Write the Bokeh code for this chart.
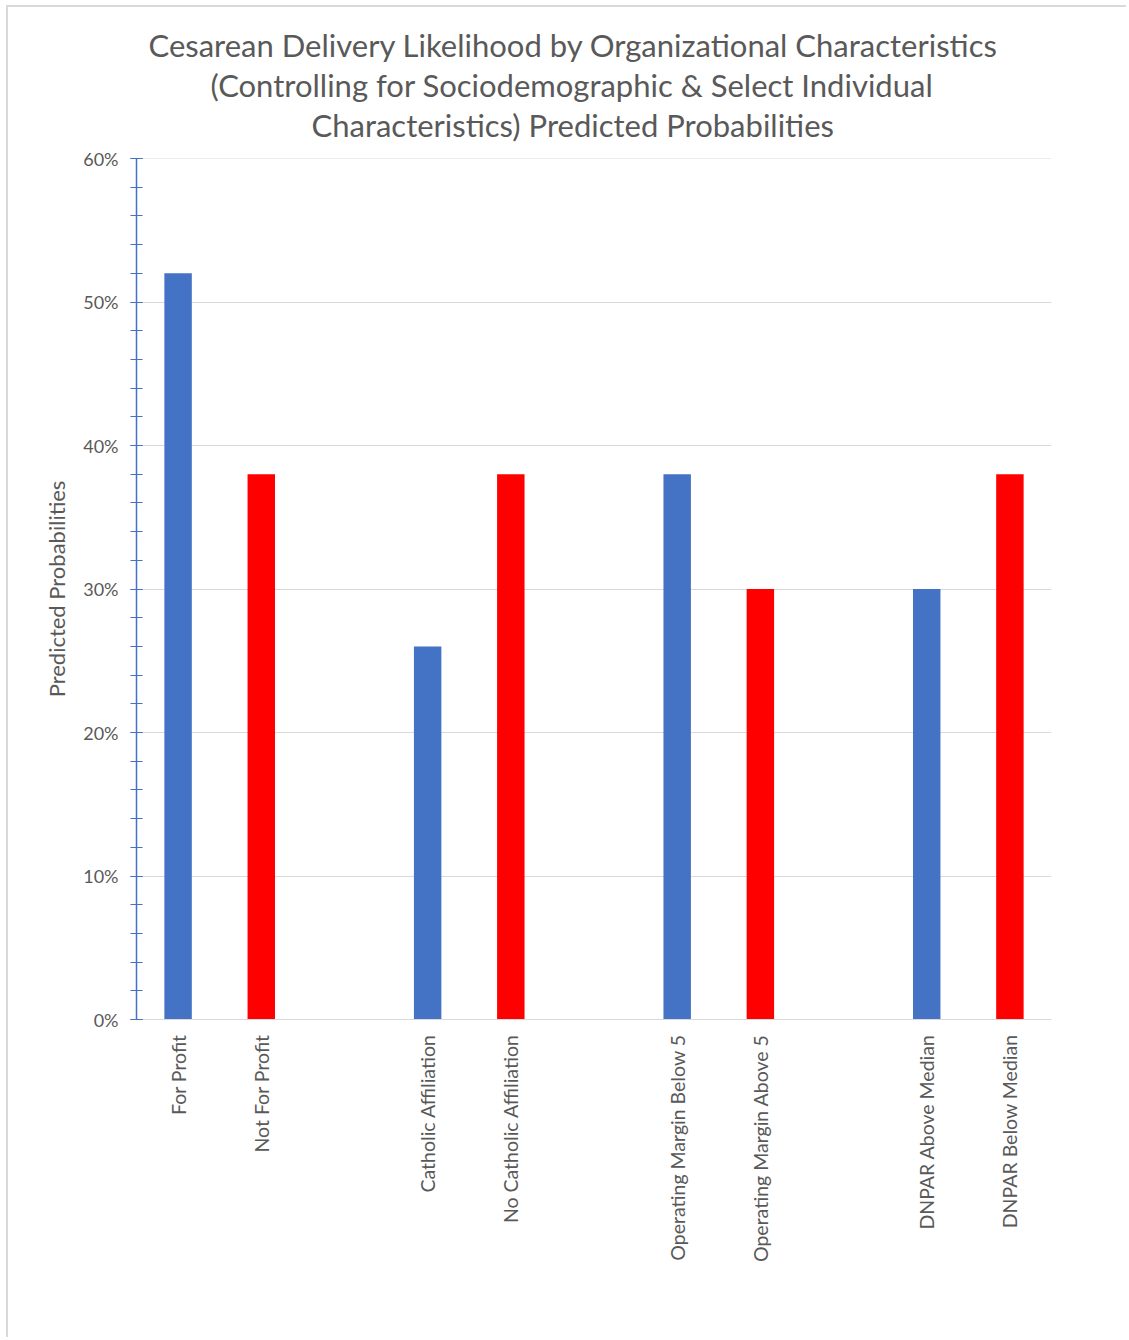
import math
from bokeh.plotting import figure
from bokeh.models import FactorRange, Range1d, NumeralTickFormatter, SingleIntervalTicker, Title, ColumnDataSource
from bokeh.embed import file_html
from bokeh.resources import INLINE

# ---- data ----
slots = ["For Profit", "Not For Profit", " ",
         "Catholic Affiliation", "No Catholic Affiliation", "  ",
         "Operating Margin Below 5", "Operating Margin Above 5", "   ",
         "DNPAR Above Median", "DNPAR Below Median"]
categories = ["For Profit", "Not For Profit",
              "Catholic Affiliation", "No Catholic Affiliation",
              "Operating Margin Below 5", "Operating Margin Above 5",
              "DNPAR Above Median", "DNPAR Below Median"]
values = [0.52, 0.38, 0.26, 0.38, 0.38, 0.30, 0.30, 0.38]
series = ["first", "second"] * 4
title_lines = ["Cesarean Delivery Likelihood by Organizational Characteristics",
               "(Controlling for Sociodemographic & Select Individual",
               "Characteristics) Predicted Probabilities"]
y_label = "Predicted Probabilities"

BLUE = "#4472C4"
RED = "#FF0000"
GRAY_TXT = "#595959"
FONT = "Lato"

colors = [BLUE if s == "first" else RED for s in series]
src = ColumnDataSource(dict(cat=categories, val=values, color=colors))

p = figure(width=1120, height=1332,
           x_range=FactorRange(factors=slots, range_padding=0),
           y_range=Range1d(0, 0.6000001),
           output_backend="svg", toolbar_location=None,
           min_border_left=128, min_border_right=77,
           min_border_top=151, min_border_bottom=320)
p.styles = {"margin-left": "6px", "margin-top": "5px",
            "border-top": "2px solid #d9d9d9", "border-left": "2px solid #d9d9d9"}

p.vbar(x="cat", top="val", width=0.33, fill_color="color", line_color=None, source=src)

p.outline_line_color = None
p.xgrid.grid_line_color = None
p.ygrid.grid_line_color = "#d9d9d9"
p.ygrid.grid_line_width = 1

# y axis
p.yaxis.ticker = SingleIntervalTicker(interval=0.1, num_minor_ticks=5)
p.yaxis.formatter = NumeralTickFormatter(format="0%")
p.yaxis.axis_line_color = BLUE
p.yaxis.axis_line_width = 1.5
p.yaxis.major_tick_line_color = BLUE
p.yaxis.minor_tick_line_color = BLUE
p.yaxis.major_tick_in = 6
p.yaxis.major_tick_out = 6
p.yaxis.minor_tick_in = 6
p.yaxis.minor_tick_out = 6
p.yaxis.major_label_text_font = FONT
p.yaxis.major_label_text_font_size = "18px"
p.yaxis.major_label_text_color = GRAY_TXT
p.yaxis.major_label_standoff = 12
p.yaxis.axis_label = y_label
p.yaxis.axis_label_text_font = FONT
p.yaxis.axis_label_text_font_size = "22px"
p.yaxis.axis_label_text_font_style = "normal"
p.yaxis.axis_label_text_color = GRAY_TXT
p.yaxis.axis_label_standoff = 10

# x axis
p.xaxis.axis_line_color = "#d9d9d9"
p.xaxis.major_tick_line_color = None
p.xaxis.minor_tick_line_color = None
p.xaxis.major_label_orientation = math.pi / 2
p.xaxis.major_label_text_font = FONT
p.xaxis.major_label_text_font_size = "19.5px"
p.xaxis.major_label_text_color = GRAY_TXT
p.xaxis.major_label_standoff = 9

# blank spacer between the title block and the plot frame
p.add_layout(Title(text=" ", text_font_size="1px", standoff=12), "above")

# title (three centered lines; last added is highest)
offsets = [12, 74, 175]
for line, off in zip(reversed(title_lines), reversed(offsets)):
    t = Title(text=line, align="left", offset=off, text_font=FONT, text_font_size="31px",
              text_font_style="normal", text_color=GRAY_TXT, standoff=0)
    p.add_layout(t, "above")

open("out.html", "w").write(file_html(p, INLINE))
